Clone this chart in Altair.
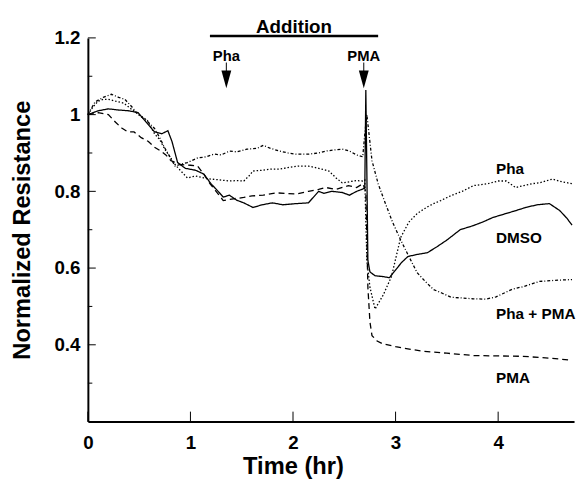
import altair as alt
import pandas as pd

# ---------------- data ----------------
dmso_t = [0, 0.05, 0.1, 0.2, 0.3, 0.4, 0.49, 0.57, 0.65, 0.72, 0.78, 0.82, 0.875, 0.95, 1.05, 1.13, 1.2, 1.27,
          1.32, 1.38, 1.45, 1.52, 1.61, 1.7, 1.8, 1.9, 2.03, 2.15, 2.2, 2.25, 2.3, 2.38, 2.48, 2.55, 2.62, 2.68,
          2.7, 2.71, 2.72, 2.73, 2.75, 2.8, 2.87, 2.94, 3.0, 3.06, 3.12, 3.2, 3.31, 3.4, 3.5, 3.63, 3.75, 3.85,
          3.95, 4.05, 4.15, 4.27, 4.38, 4.5, 4.6, 4.67, 4.72]
dmso_v = [1.0, 1.005, 1.01, 1.015, 1.012, 1.01, 1.005, 0.98, 0.955, 0.95, 0.958, 0.93, 0.875, 0.86, 0.855,
          0.845, 0.82, 0.80, 0.785, 0.79, 0.777, 0.77, 0.758, 0.765, 0.77, 0.765, 0.768, 0.77, 0.785, 0.80,
          0.795, 0.80, 0.797, 0.79, 0.80, 0.806, 0.81, 1.064, 0.85, 0.62, 0.59, 0.58, 0.578, 0.575, 0.595,
          0.615, 0.63, 0.635, 0.64, 0.655, 0.673, 0.70, 0.71, 0.72, 0.732, 0.74, 0.748, 0.758, 0.765, 0.768,
          0.75, 0.73, 0.712]

pma_t = [0, 0.1, 0.2, 0.27, 0.33, 0.39, 0.45, 0.52, 0.59, 0.65, 0.71, 0.76, 0.81, 0.9, 1.0, 1.07, 1.13, 1.19,
         1.25, 1.32, 1.4, 1.52, 1.6, 1.71, 1.84, 2.03, 2.15, 2.25, 2.32, 2.42, 2.54, 2.62, 2.68, 2.71, 2.73,
         2.75, 2.77, 2.82, 2.87, 3.0, 3.15, 3.28, 3.5, 3.76, 4.0, 4.24, 4.5, 4.72]
pma_v = [1.0, 1.005, 1.0, 0.98, 0.965, 0.955, 0.955, 0.94, 0.93, 0.915, 0.905, 0.895, 0.88, 0.87, 0.868,
         0.866, 0.845, 0.82, 0.80, 0.776, 0.78, 0.784, 0.788, 0.79, 0.796, 0.793, 0.80, 0.805, 0.81, 0.805,
         0.815, 0.81, 0.82, 0.80, 0.55, 0.46, 0.424, 0.41, 0.403, 0.395, 0.388, 0.383, 0.378, 0.372, 0.371,
         0.37, 0.365, 0.36]

phapma_t = [0, 0.07, 0.15, 0.23, 0.3, 0.36, 0.43, 0.49, 0.57, 0.65, 0.7, 0.75, 0.8, 0.85, 0.9, 0.97, 1.07,
            1.15, 1.23, 1.3, 1.38, 1.45, 1.55, 1.65, 1.71, 1.78, 1.87, 1.95, 2.03, 2.15, 2.25, 2.32, 2.4, 2.48,
            2.55, 2.62, 2.68, 2.7, 2.72, 2.77, 2.83, 2.89, 2.97, 3.05, 3.13, 3.21, 3.29, 3.37, 3.45, 3.54, 3.65,
            3.75, 3.88, 3.98, 4.06, 4.14, 4.25, 4.4, 4.55, 4.72]
phapma_v = [1.0, 1.033, 1.045, 1.053, 1.045, 1.04, 1.02, 1.0, 0.985, 0.964, 0.94, 0.913, 0.89, 0.866, 0.87,
            0.875, 0.887, 0.89, 0.897, 0.895, 0.905, 0.903, 0.91, 0.912, 0.92, 0.912, 0.905, 0.9, 0.897, 0.897,
            0.9, 0.905, 0.908, 0.91, 0.905, 0.895, 0.89, 0.95, 1.0, 0.88, 0.82, 0.776, 0.72, 0.673, 0.63, 0.588,
            0.565, 0.544, 0.535, 0.524, 0.522, 0.52, 0.519, 0.525, 0.535, 0.545, 0.552, 0.565, 0.568, 0.57]

pha_t = [0, 0.05, 0.1, 0.15, 0.2, 0.27, 0.35, 0.42, 0.5, 0.58, 0.65, 0.7, 0.75, 0.8, 0.85, 0.9, 0.97, 1.05,
         1.13, 1.2, 1.28, 1.38, 1.45, 1.52, 1.57, 1.61, 1.7, 1.78, 1.87, 1.95, 2.05, 2.15, 2.25, 2.35, 2.42,
         2.48, 2.55, 2.62, 2.68, 2.7, 2.72, 2.75, 2.8, 2.88, 2.96, 3.05, 3.13, 3.21, 3.3, 3.37, 3.44, 3.55,
         3.65, 3.76, 3.9, 4.0, 4.08, 4.17, 4.25, 4.33, 4.4, 4.53, 4.62, 4.72]
pha_v = [1.0, 1.02, 1.035, 1.04, 1.04, 1.035, 1.03, 1.015, 1.0, 0.985, 0.95, 0.935, 0.91, 0.89, 0.87, 0.855,
         0.835, 0.84, 0.835, 0.832, 0.83, 0.827, 0.828, 0.827, 0.84, 0.853, 0.855, 0.858, 0.858, 0.862, 0.866,
         0.866, 0.86, 0.853, 0.835, 0.822, 0.825, 0.828, 0.827, 0.83, 0.62, 0.55, 0.493, 0.53, 0.578, 0.68,
         0.72, 0.742, 0.758, 0.768, 0.776, 0.79, 0.8, 0.815, 0.82, 0.827, 0.827, 0.81, 0.815, 0.82, 0.822,
         0.832, 0.825, 0.82]

series_names = ["DMSO", "PMA", "Pha", "Pha + PMA"]
end_labels = ["Pha", "DMSO", "Pha + PMA", "PMA"]
end_label_y = [0.858, 0.678, 0.48, 0.313]
additions = ["Pha", "PMA"]
addition_t = [1.35, 2.69]
addition_span = [1.19, 2.83]
x_ticks = [0, 1, 2, 3, 4]
y_ticks = [0.4, 0.6, 0.8, 1.0, 1.2]
y_minor = [0.3, 0.5, 0.7, 0.9, 1.1]

# ---------------- build tables ----------------
rows = []
for name, ts, vs in [("DMSO", dmso_t, dmso_v), ("PMA", pma_t, pma_v),
                     ("Pha", pha_t, pha_v), ("Pha + PMA", phapma_t, phapma_v)]:
    for t, v in zip(ts, vs):
        rows.append({"series": name, "t": t, "v": v})
df = pd.DataFrame(rows)

FONT = "Liberation Sans"
W, H = 493, 389
xscale = alt.Scale(domain=[0, 4.74], nice=False, zero=False)
yscale = alt.Scale(domain=[0.2, 1.2], nice=False, zero=False)
X_TITLE = "Time (hr)"
Y_TITLE = "Normalized Resistance"

lines = alt.Chart(df).mark_line(color="black", strokeWidth=1.3).encode(
    x=alt.X("t:Q", scale=xscale, title=X_TITLE,
            axis=alt.Axis(values=x_ticks, format="~g", labelPadding=12, labelFlush=False,
                          titleX=208, titleY=53, titleBaseline="alphabetic", titleAlign="center")),
    y=alt.Y("v:Q", scale=yscale, title=Y_TITLE,
            axis=alt.Axis(values=y_ticks, format="~g", labelPadding=8,
                          labelFlush=False, titleX=-59, titleBaseline="alphabetic")),
    strokeDash=alt.StrokeDash("series:N", legend=None,
                              scale=alt.Scale(domain=series_names,
                                              range=[[1, 0], [6, 4], [1.5, 2], [3, 2, 1, 2]])),
    detail="series:N",
)

def X(field="t"):
    return alt.X(f"{field}:Q", scale=xscale, title=X_TITLE)

def Y(field="v"):
    return alt.Y(f"{field}:Q", scale=yscale, title=Y_TITLE)

# inward tick marks
xt = alt.Chart(pd.DataFrame({"t": x_ticks})).mark_rule(color="black", strokeWidth=1).encode(
    x=X(), y=alt.value(H), y2=alt.value(H - 10))
yt = alt.Chart(pd.DataFrame({"v": y_ticks})).mark_rule(color="black", strokeWidth=1).encode(
    y=Y(), x=alt.value(0), x2=alt.value(8))
ym = alt.Chart(pd.DataFrame({"v": y_minor})).mark_rule(color="black", strokeWidth=1).encode(
    y=Y(), x=alt.value(0), x2=alt.value(4.5))

# Addition bar + text
add_df = pd.DataFrame({"t": [addition_span[0]], "b": [addition_span[1]],
                       "m": [(addition_span[0] + addition_span[1]) / 2], "label": ["Addition"]})
add_rule = alt.Chart(add_df).mark_rule(color="black", strokeWidth=2.5).encode(
    x=X(), x2="b:Q", y=alt.value(-2))
add_text = alt.Chart(add_df).mark_text(font=FONT, fontWeight="bold", fontSize=19, baseline="alphabetic",
                                       color="black").encode(
    x=X("m"), y=alt.value(-5), text="label:N")

# arrows
arr_df = pd.DataFrame({"t": addition_t, "label": additions})
arr_text = alt.Chart(arr_df).mark_text(font=FONT, fontWeight="bold", fontSize=15, baseline="alphabetic",
                                       color="black").encode(
    x=X(), y=alt.value(23), text="label:N")
arr_shaft = alt.Chart(arr_df).mark_rule(color="black", strokeWidth=1).encode(
    x=X(), y=alt.value(25), y2=alt.value(36))
arr_head = alt.Chart(arr_df).mark_point(shape="M-0.556,-1L0.556,-1L0,1Z", size=324, filled=True,
                                        color="black", opacity=1, strokeWidth=0).encode(
    x=X(), y=alt.value(42))

# end labels
lab_df = pd.DataFrame({"label": end_labels, "v": end_label_y, "t": [3.98] * 4})
labs = alt.Chart(lab_df).mark_text(font=FONT, fontWeight="bold", fontSize=15.5, align="left",
                                   baseline="middle", color="black").encode(
    x=X(), y=Y(), text="label:N")

chart = alt.layer(lines, xt, yt, ym, add_rule, add_text, arr_shaft, arr_head, arr_text, labs).properties(
    width=W, height=H,
    autosize=alt.AutoSizeParams(type="none"),
    padding={"left": 81, "top": 27, "right": 3, "bottom": 57},
).configure_view(stroke=None).configure_axis(
    grid=False, ticks=False, domainColor="black", domainWidth=2,
    labelFont=FONT, labelFontWeight="bold", labelFontSize=19, labelColor="black",
    titleFont=FONT, titleFontWeight="bold", titleFontSize=24, titleColor="black",
)

chart.save("out.html", embed_options={"renderer": "svg", "actions": False})
